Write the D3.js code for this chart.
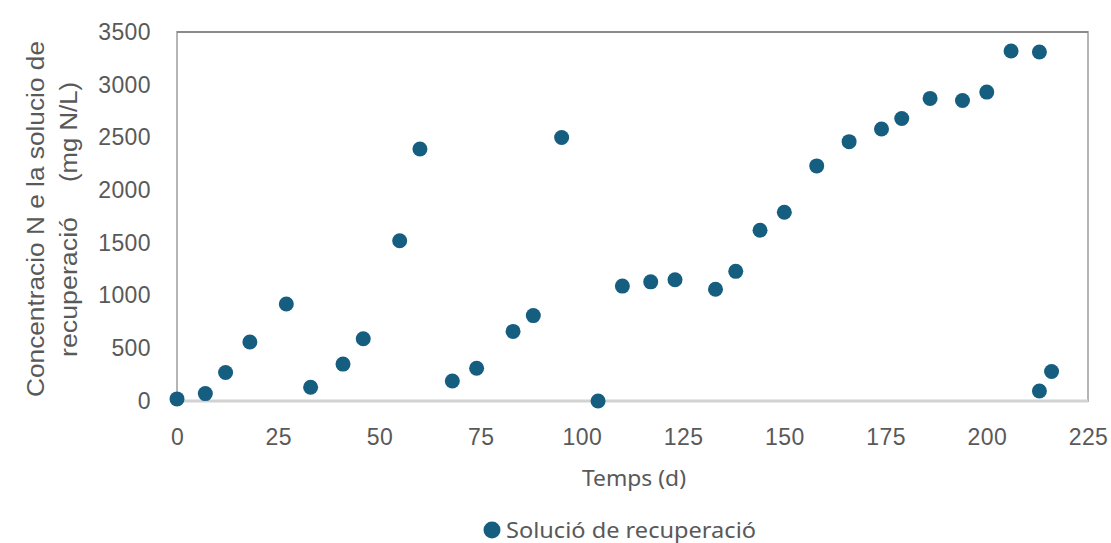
<!DOCTYPE html>
<html>
<head>
<meta charset="utf-8">
<script src="https://cdn.jsdelivr.net/npm/d3@7"></script>
<style>
  html, body { margin: 0; padding: 0; background: #fff; }
  svg { display: block; }
</style>
</head>
<body>
<svg id="chart" width="1111" height="543"></svg>
<script>
const days = [0, 7, 12, 18, 27, 33, 41, 46, 55, 60, 68, 74, 83, 88, 95, 104, 110, 117, 123, 133, 138, 144, 150, 158, 166, 174, 179, 186, 194, 200, 206, 213, 213, 216];
const concentration = [20, 70, 270, 560, 920, 130, 350, 590, 1520, 2390, 190, 310, 660, 810, 2500, 0, 1090, 1130, 1150, 1060, 1230, 1620, 1790, 2230, 2460, 2580, 2680, 2870, 2850, 2930, 3320, 3310, 95, 280];
const xTicks = [0, 25, 50, 75, 100, 125, 150, 175, 200, 225];
const yTicks = [0, 500, 1000, 1500, 2000, 2500, 3000, 3500];
const seriesName = "Solució de recuperació";
const xTitle = "Temps (d)";
const yTitle1 = "Concentracio N e la solucio de";
const yTitle2a = "recuperació";
const yTitle2b = "(mg N/L)";

const svg = d3.select("#chart");
const x = d3.scaleLinear().domain([0, 225]).range([177, 1088]);
const y = d3.scaleLinear().domain([0, 3500]).range([401, 32]);
const dotColor = "#165e80";
const textColor = "#595959";

// plot frame
svg.append("rect")
  .attr("x", x(0)).attr("y", y(3500))
  .attr("width", x(225) - x(0)).attr("height", y(0) - y(3500))
  .attr("fill", "none").attr("stroke", "#b5b5b5").attr("stroke-width", 2);
svg.append("line")
  .attr("x1", x(0)).attr("x2", x(225)).attr("y1", y(3500)).attr("y2", y(3500))
  .attr("stroke", "#8a8a8a").attr("stroke-width", 2);
svg.append("line")
  .attr("x1", x(0)).attr("x2", x(225)).attr("y1", y(0)).attr("y2", y(0))
  .attr("stroke", "#d2d2d2").attr("stroke-width", 3);

const tickFont = sel => sel
  .attr("fill", textColor)
  .style("font-family", "'Liberation Sans', Arial, sans-serif")
  .style("font-size", "23px")
  .style("letter-spacing", "0.4px");

// axes (labels only)
const xAxis = d3.axisBottom(x).tickValues(xTicks).tickSize(0).tickPadding(0).tickFormat(d3.format("d"));
const gx = svg.append("g").attr("transform", "translate(0,429)").call(xAxis);
gx.select(".domain").remove();
gx.selectAll("text").attr("dy", "0.71em").attr("y", 0).call(tickFont);

const yAxis = d3.axisLeft(y).tickValues(yTicks).tickSize(0).tickPadding(0).tickFormat(d3.format("d"));
const gy = svg.append("g").attr("transform", "translate(151,0)").call(yAxis);
gy.select(".domain").remove();
gy.selectAll("text").attr("x", 0).call(tickFont);

// points
svg.append("g").selectAll("circle")
  .data(days.map((d, i) => [d, concentration[i]]))
  .join("circle")
  .attr("cx", d => x(d[0]))
  .attr("cy", d => y(d[1]))
  .attr("r", 7.5)
  .attr("fill", dotColor);

// axis titles
svg.append("text")
  .attr("x", 634).attr("y", 486)
  .attr("text-anchor", "middle")
  .attr("fill", textColor)
  .style("font-family", "'Noto Sans', sans-serif")
  .style("font-size", "21px")
  .attr("textLength", 104).attr("lengthAdjust", "spacingAndGlyphs")
  .text(xTitle);

const yt = svg.append("g")
  .style("font-family", "'Liberation Sans', Arial, sans-serif")
  .style("font-size", "23px")
  .attr("fill", textColor);
yt.append("text")
  .attr("transform", "translate(44,219) rotate(-90)")
  .attr("text-anchor", "middle")
  .attr("textLength", 356).attr("lengthAdjust", "spacingAndGlyphs")
  .text(yTitle1);
yt.append("text")
  .attr("transform", "translate(77,287) rotate(-90)")
  .attr("text-anchor", "middle")
  .attr("textLength", 140).attr("lengthAdjust", "spacingAndGlyphs")
  .text(yTitle2a);
yt.append("text")
  .attr("transform", "translate(77,132) rotate(-90)")
  .attr("text-anchor", "middle")
  .attr("textLength", 100).attr("lengthAdjust", "spacingAndGlyphs")
  .text(yTitle2b);

// legend
svg.append("circle").attr("cx", 492).attr("cy", 530).attr("r", 8.5).attr("fill", dotColor);
svg.append("text")
  .attr("x", 506).attr("y", 538)
  .attr("fill", textColor)
  .style("font-family", "'Noto Sans', sans-serif")
  .style("font-size", "22px")
  .attr("textLength", 250).attr("lengthAdjust", "spacingAndGlyphs")
  .text(seriesName);
</script>
</body>
</html>
